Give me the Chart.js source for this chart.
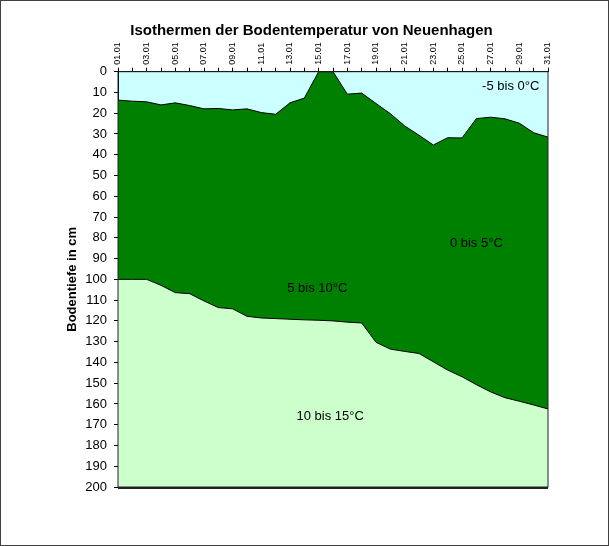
<!DOCTYPE html>
<html>
<head>
<meta charset="utf-8">
<script src="https://cdn.jsdelivr.net/npm/chart.js@4"></script>
<style>
  body { margin: 0; background: #fff; }
  #wrap { width: 609px; height: 546px; position: relative; }
</style>
</head>
<body>
<div id="wrap"><canvas id="isochart"></canvas></div>
<script>
const days = ['01.01.','02.01.','03.01.','04.01.','05.01.','06.01.','07.01.','08.01.','09.01.','10.01.',
  '11.01.','12.01.','13.01.','14.01.','15.01.','16.01.','17.01.','18.01.','19.01.','20.01.',
  '21.01.','22.01.','23.01.','24.01.','25.01.','26.01.','27.01.','28.01.','29.01.','30.01.','31.01.'];

// depth (cm) of the 0°C isotherm
const iso0 = [13.7, 14.2, 14.5, 16, 15, 16.3, 17.9, 17.7, 18.4, 17.9,
  19.7, 20.5, 15, 12.7, 0, 0, 10.8, 10.3, 15.3, 20.2,
  26.1, 30.6, 35.3, 31.8, 31.9, 22.6, 21.9, 22.7, 24.8, 29.4, 31.5];

// depth (cm) of the 10°C isotherm
const iso10 = [100, 100, 100, 102.9, 106.4, 106.9, 110.4, 113.6, 114.2, 117.8,
  118.6, 118.9, 119.2, 119.5, 119.7, 120, 120.6, 121, 130.3, 133.6,
  134.7, 135.7, 139.7, 143.7, 146.9, 150.7, 154.2, 157, 158.7, 160.5, 162.4];

const zones = ['-5 bis 0°C', '0 bis 5°C', '5 bis 10°C', '10 bis 15°C'];

// where the zone names sit, in data units (day index, depth)
const zoneAt = [[27.4, 7], [25, 82.5], [13.9, 104.6], [14.8, 166]];

const FONT = '"Liberation Sans", Arial, sans-serif';

const areaPlugin = {
  id: 'areaPlugin',
  beforeDraw(chart) {
    const c = chart.ctx, a = chart.chartArea;
    c.save();
    c.fillStyle = '#fff';
    c.fillRect(0, 0, chart.width, chart.height);
    c.fillStyle = '#CCFFFF';
    c.fillRect(a.left, a.top, a.right - a.left, a.bottom - a.top);
    c.restore();
  },
  afterDraw(chart) {
    const c = chart.ctx, a = chart.chartArea;
    const xs = chart.scales.x, ys = chart.scales.y;
    c.save();
    c.fillStyle = '#000';
    c.font = '13px ' + FONT;
    c.textAlign = 'center';
    c.textBaseline = 'middle';
    zones.forEach((t, i) => {
      c.fillText(t, xs.getPixelForValue(zoneAt[i][0]), ys.getPixelForValue(zoneAt[i][1]));
    });
    c.strokeStyle = '#222';
    c.lineWidth = 1;
    c.strokeRect(a.left, a.top, a.right - a.left, a.bottom - a.top);
    c.lineWidth = 2;
    c.beginPath();
    c.moveTo(a.left, a.bottom + 1);
    c.lineTo(a.right, a.bottom + 1);
    c.stroke();
    c.strokeStyle = '#404040';
    c.lineWidth = 1;
    c.strokeRect(0.5, 0.5, chart.width - 1, chart.height - 1);
    c.restore();
  }
};

new Chart(document.getElementById('isochart'), {
  type: 'line',
  data: {
    labels: days,
    datasets: [
      {
        label: '10°C',
        data: iso10,
        borderColor: '#000',
        borderWidth: 1,
        backgroundColor: '#CCFFCC',
        fill: { value: 200 },
        pointRadius: 0,
        tension: 0
      },
      {
        label: '0°C',
        data: iso0,
        borderColor: '#000',
        borderWidth: 1,
        backgroundColor: '#008000',
        fill: { value: 200 },
        pointRadius: 0,
        tension: 0
      }
    ]
  },
  options: {
    responsive: true,
    maintainAspectRatio: false,
    animation: false,
    layout: { padding: { left: 14, right: 0, top: 0, bottom: 59 } },
    plugins: {
      legend: { display: false },
      tooltip: { enabled: false },
      title: {
        display: true,
        text: 'Isothermen der Bodentemperatur von Neuenhagen',
        color: '#000',
        font: { family: FONT, size: 15, weight: 'bold' },
        padding: { top: 22, bottom: 2 }
      }
    },
    scales: {
      x: {
        type: 'category',
        position: 'top',
        offset: false,
        grid: { drawOnChartArea: false, tickLength: 4, color: '#000' },
        border: { color: '#000' },
        ticks: {
          autoSkip: false,
          minRotation: 90,
          maxRotation: 90,
          padding: 3,
          labelOffset: 10.8,
          color: '#000',
          font: { family: FONT, size: 9 },
          callback: (v, i) => (i % 2 === 0 ? days[i] : '')
        },
        afterFit(s) { s.height = 29.7; }
      },
      y: {
        reverse: true,
        min: 0,
        max: 200,
        grid: { drawOnChartArea: false, tickLength: 4, color: '#000' },
        border: { color: '#000' },
        ticks: {
          stepSize: 10,
          padding: 7,
          color: '#000',
          font: { family: FONT, size: 13 }
        },
        title: {
          display: true,
          text: 'Bodentiefe in cm',
          color: '#000',
          font: { family: FONT, size: 13, weight: 'bold' },
          padding: { top: 51, bottom: 0 }
        },
        afterFit(s) { s.width = 104; }
      },
      // empty right-hand band so the plot ends where the reference does
      yRight: {
        position: 'right',
        display: true,
        grid: { display: false },
        border: { display: false },
        ticks: { display: false },
        afterFit(s) { s.width = 61; }
      }
    }
  },
  plugins: [areaPlugin]
});
</script>
</body>
</html>
